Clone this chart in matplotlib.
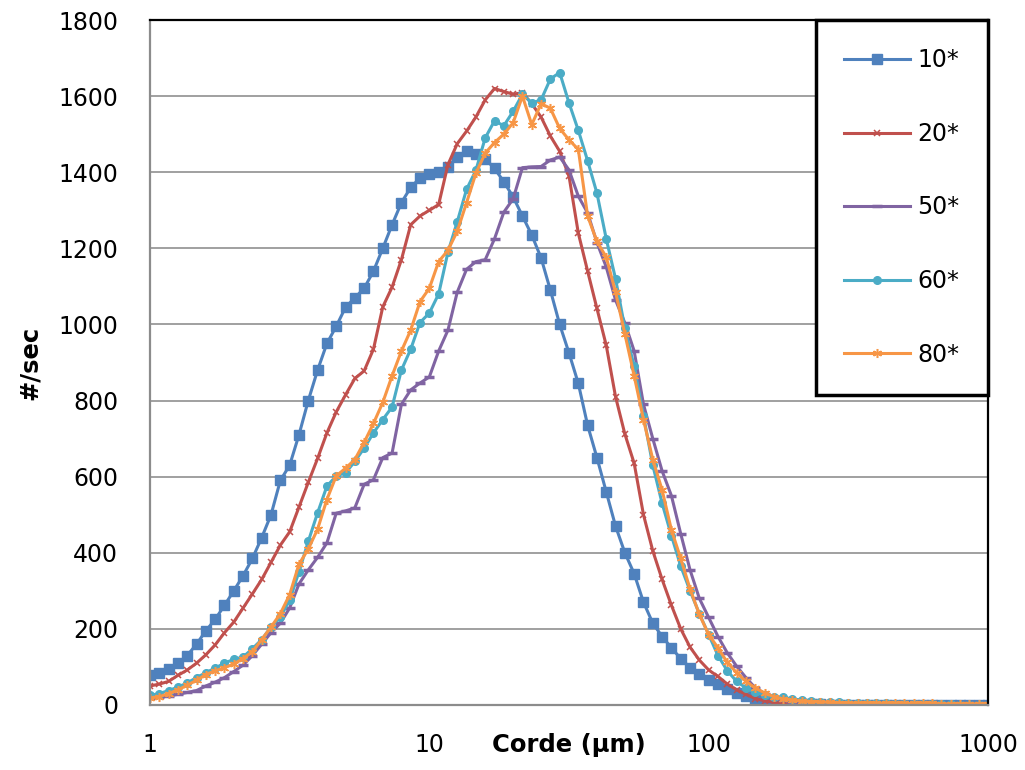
import matplotlib
matplotlib.use("Agg")
import matplotlib.pyplot as plt
import numpy as np

# chord length channels (log spaced, 1..1000 um, 30 per decade)
chord = np.logspace(0, 3, 91)

c10 = [80, 85, 95, 110, 130, 160, 195, 225, 262, 300,
       340, 385, 440, 500, 590, 630, 710, 800, 880, 950,
       995, 1045, 1070, 1095, 1140, 1200, 1262, 1320, 1360, 1385,
       1395, 1400, 1415, 1440, 1455, 1448, 1435, 1410, 1375, 1335,
       1285, 1235, 1175, 1090, 1000, 925, 845, 735, 650, 560,
       470, 400, 345, 270, 215, 180, 150, 122, 98, 82,
       66, 55, 42, 32, 23, 15, 10, 6, 4, 3,
       2, 2, 2, 1, 1, 1, 1, 1, 1, 0,
       0, 0, 0, 0, 0, 0, 0, 0, 0, 0, 0]

c20 = [50, 55, 62, 78, 92, 110, 132, 158, 190, 218,
       255, 292, 330, 375, 420, 455, 520, 585, 648, 715,
       770, 815, 858, 878, 935, 1046, 1098, 1170, 1262, 1285,
       1300, 1315, 1420, 1475, 1508, 1545, 1590, 1620, 1612, 1605,
       1609, 1580, 1545, 1495, 1455, 1390, 1240, 1140, 1042, 945,
       810, 712, 635, 500, 405, 330, 262, 200, 152, 118,
       92, 75, 55, 40, 28, 17, 11, 7, 5, 3,
       3, 2, 2, 1, 1, 1, 1, 1, 1, 1,
       0, 0, 0, 0, 0, 0, 0, 0, 0, 0, 0]

c50 = [18, 20, 24, 28, 33, 38, 50, 60, 72, 88,
       105, 130, 160, 190, 215, 255, 318, 355, 388, 426,
       504, 510, 518, 580, 592, 650, 662, 790, 828, 846,
       862, 930, 985, 1085, 1145, 1165, 1170, 1225, 1295, 1330,
       1412, 1414, 1415, 1432, 1440, 1406, 1337, 1293, 1215, 1151,
       1064, 1004, 930, 790, 700, 615, 550, 450, 355, 280,
       230, 180, 137, 102, 72, 45, 30, 20, 12, 8,
       6, 5, 4, 3, 3, 2, 2, 2, 2, 1,
       1, 1, 1, 1, 1, 1, 1, 0, 0, 0, 0]

c60 = [25, 30, 38, 47, 58, 72, 85, 97, 110, 120,
       126, 148, 172, 205, 232, 275, 350, 430, 505, 575,
       602, 610, 640, 675, 715, 750, 783, 880, 935, 1005,
       1030, 1080, 1190, 1270, 1355, 1405, 1490, 1535, 1522, 1560,
       1605, 1582, 1590, 1645, 1662, 1582, 1510, 1430, 1345, 1225,
       1120, 990, 890, 760, 630, 530, 445, 365, 300, 240,
       185, 130, 90, 62, 45, 33, 26, 22, 20, 16,
       13, 11, 9, 8, 7, 6, 5, 5, 4, 4,
       3, 3, 3, 2, 2, 2, 2, 1, 1, 1, 1]

c80 = [18, 22, 30, 40, 52, 65, 80, 90, 98, 108,
       122, 140, 172, 205, 240, 290, 370, 410, 462, 540,
       602, 622, 645, 690, 740, 795, 865, 930, 985, 1060,
       1095, 1165, 1195, 1245, 1320, 1397, 1450, 1478, 1500, 1530,
       1600, 1525, 1580, 1568, 1515, 1485, 1460, 1285, 1218, 1177,
       1085, 975, 865, 750, 645, 565, 460, 385, 305, 238,
       185, 150, 112, 85, 62, 45, 32, 22, 16, 13,
       10, 9, 8, 7, 6, 6, 5, 5, 5, 5,
       4, 4, 4, 4, 4, 3, 3, 3, 3, 3, 3]

labels = ["10*", "20*", "50*", "60*", "80*"]
colors = ["#4F81BD", "#C0504D", "#8064A2", "#4BACC6", "#F79646"]

plt.rcParams["font.family"] = "DejaVu Sans"

fig = plt.figure(figsize=(10.25, 7.7), dpi=100)
ax = fig.add_axes([150 / 1025, 65 / 770, 838 / 1025, 685 / 770])

ax.plot(chord, c10, color=colors[0], lw=2.2, marker="s", ms=6.5, label=labels[0])
ax.plot(chord, c20, color=colors[1], lw=2.2, marker="x", ms=5, mew=1.1, label=labels[1])
ax.plot(chord, c50, color=colors[2], lw=2.2, marker="_", ms=7, mew=2.5, label=labels[2])
ax.plot(chord, c60, color=colors[3], lw=2.2, marker="o", ms=5.5, label=labels[3])
ax.plot(chord, c80, color=colors[4], lw=2.2, marker=(6, 2, 0), ms=6.5, mew=1.1, label=labels[4])

ax.set_xscale("log")
ax.set_xlim(1, 1000)
ax.set_ylim(0, 1800)
ax.set_xticks([1, 10, 100, 1000])
ax.set_xticklabels(["1", "10", "100", "1000"])
ax.set_yticks(np.arange(0, 1801, 200))
ax.minorticks_off()
ax.tick_params(axis="x", length=0, pad=20, labelsize=17)
ax.tick_params(axis="y", length=0, pad=23, labelsize=17)

ax.grid(axis="y", color="#999999", lw=1.3)
ax.set_axisbelow(True)
for s in ["left", "bottom"]:
    ax.spines[s].set_color("#8c8c8c")
    ax.spines[s].set_linewidth(1.6)
for s in ["top", "right"]:
    ax.spines[s].set_color("black")
    ax.spines[s].set_linewidth(1.6)

ax.set_xlabel("Corde (µm)", fontsize=17.5, fontweight="bold", va="center")
ax.xaxis.set_label_coords(0.5, -0.058)
ax.set_ylabel("#/sec", fontsize=17.5, fontweight="bold", va="center")
ax.yaxis.set_label_coords(-0.143, 0.5)

leg = ax.legend(loc="upper right", bbox_to_anchor=(1, 1), borderaxespad=0,
                fontsize=17, fancybox=False, framealpha=1, borderpad=1.2,
                labelspacing=2.1, handlelength=2.8, handletextpad=0.3)
leg.get_frame().set_edgecolor("black")
leg.get_frame().set_linewidth(2.5)

fig.savefig("out.png", dpi=100)
